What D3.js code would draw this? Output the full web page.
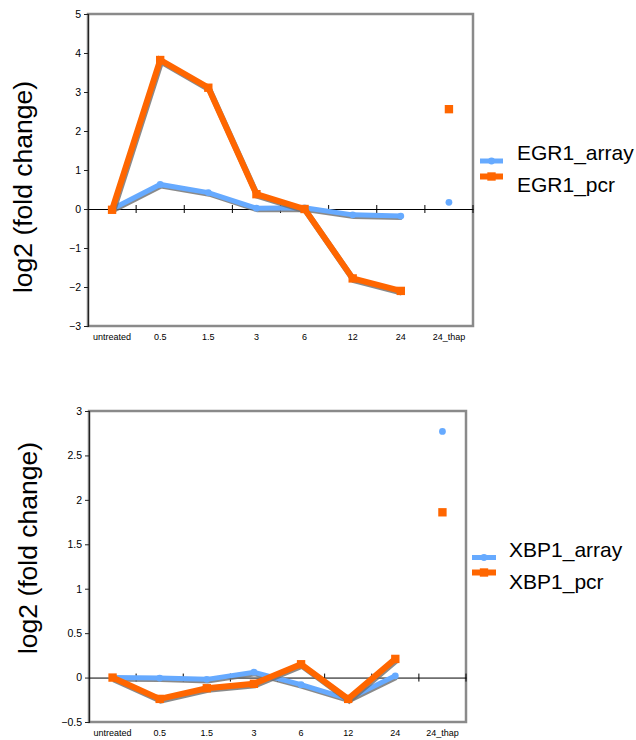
<!DOCTYPE html>
<html>
<head>
<meta charset="utf-8">
<script src="https://cdn.jsdelivr.net/npm/d3@7/dist/d3.min.js"></script>
<style>
  html, body { margin: 0; padding: 0; background: #fff; }
  svg { display: block; }
  text { font-family: "Liberation Sans", Arial, sans-serif; fill: #000; }
</style>
</head>
<body>
<svg id="chart" width="636" height="740"></svg>
<script>
// ---- data ----
const categories = ["untreated", "0.5", "1.5", "3", "6", "12", "24", "24_thap"];
const isolatedCategories = ["24_thap"];

const egr1Array = [0, 0.63, 0.42, 0.02, 0.03, -0.15, -0.18, 0.17];
const egr1Pcr   = [-0.02, 3.82, 3.11, 0.38, 0.0, -1.78, -2.1, 2.56];
const egr1Ticks = [-3, -2, -1, 0, 1, 2, 3, 4, 5];

const xbp1Array = [0, -0.005, -0.02, 0.06, -0.08, -0.24, 0.02, 2.77];
const xbp1Pcr   = [0, -0.24, -0.12, -0.07, 0.15, -0.24, 0.21, 1.86];
const xbp1Ticks = [-0.5, 0, 0.5, 1, 1.5, 2, 2.5, 3];

const yLabel = "log2 (fold change)";

const ORANGE = "#FF6600";
const BLUE = "#66AAFF";

const svg = d3.select("#chart");

function markerPath(kind) {
  return kind === "square" ? d3.symbol(d3.symbolSquare, 70)() : d3.symbol(d3.symbolCircle, 36)();
}

function drawChart(cfg) {
  const g = svg.append("g");
  const x = d3.scaleBand().domain(categories).range([cfg.left, cfg.right]);
  const y = d3.scaleLinear().domain(cfg.domain).range([cfg.bottom, cfg.top]);
  const cx = c => x(c) + x.bandwidth() / 2;

  // plot background and frame
  g.append("rect")
    .attr("x", cfg.left).attr("y", cfg.top)
    .attr("width", cfg.right - cfg.left).attr("height", cfg.bottom - cfg.top)
    .attr("fill", "#fff").attr("stroke", "#8a8a8a").attr("stroke-width", 2.5);

  // y axis
  const yAxis = d3.axisLeft(y).tickValues(cfg.ticks).tickSize(4).tickPadding(3)
    .tickFormat(d3.format("~g"));
  const ya = g.append("g").attr("transform", `translate(${cfg.left},0)`).call(yAxis);
  ya.select(".domain").attr("stroke", "#222").attr("stroke-width", 1.2);
  ya.selectAll(".tick line").attr("stroke", "#222");
  ya.selectAll(".tick text").attr("font-size", 10.5)
    .style("font-family", '"Liberation Sans", Arial, sans-serif').attr("fill", "#111");

  // x axis on zero line
  const xAxis = d3.axisBottom(x).tickSize(0).tickFormat("");
  const xa = g.append("g").attr("transform", `translate(0,${y(0)})`).call(xAxis);
  xa.select(".domain").attr("stroke", "#000").attr("stroke-width", 1);
  const bounds = categories.slice(1).map(c => x(c)).concat([cfg.right]);
  xa.selectAll("line.bt").data(bounds).join("line").attr("class", "bt")
    .attr("x1", d => d).attr("x2", d => d)
    .attr("y1", -4).attr("y2", 4).attr("stroke", "#000").attr("stroke-width", 1);

  // category labels at bottom
  g.selectAll("text.cat").data(categories).join("text").attr("class", "cat")
    .attr("x", d => cx(d)).attr("y", cfg.bottom + 14)
    .attr("text-anchor", "middle").attr("font-size", 9).text(d => d);

  // y label
  g.append("text")
    .attr("transform", `translate(${cfg.ylabX},${cfg.ylabY}) rotate(-90)`)
    .attr("text-anchor", "middle").attr("font-size", 26.5).text(yLabel);

  // series
  const line = d3.line().x(d => cx(d.c)).y(d => y(d.v));
  cfg.series.forEach(s => {
    const pts = categories.map((c, i) => ({ c, v: s.values[i] }));
    const linked = pts.filter(p => !isolatedCategories.includes(p.c));
    g.append("path").datum(linked).attr("d", line)
      .attr("transform", "translate(1,1.6)")
      .attr("fill", "none").attr("stroke", "#6d6d6d").attr("stroke-opacity", 0.8)
      .attr("stroke-width", s.width).attr("stroke-linejoin", "miter");
    g.append("path").datum(linked).attr("d", line)
      .attr("fill", "none").attr("stroke", s.color)
      .attr("stroke-width", s.width).attr("stroke-linejoin", "miter");
    g.selectAll(null).data(pts).join("path")
      .attr("transform", d => `translate(${cx(d.c)},${y(d.v)})`)
      .attr("fill", s.color)
      .attr("d", markerPath(s.marker));
  });

  // legend
  cfg.series.forEach((s, i) => {
    const ly = cfg.legend.lineY[i];
    g.append("line")
      .attr("x1", cfg.legend.x1).attr("x2", cfg.legend.x2)
      .attr("y1", ly).attr("y2", ly)
      .attr("stroke", s.color).attr("stroke-width", s.width);
    const mx = (cfg.legend.x1 + cfg.legend.x2) / 2;
    g.append("path").attr("transform", `translate(${mx},${ly})`)
      .attr("fill", s.color).attr("d", markerPath(s.marker));
    g.append("text").attr("x", cfg.legend.tx).attr("y", cfg.legend.textY[i])
      .attr("font-size", 21).text(s.name);
  });
}

drawChart({
  left: 88, right: 473, top: 14, bottom: 326,
  domain: [-3, 5], ticks: egr1Ticks,
  ylabX: 32, ylabY: 187,
  series: [
    { name: "EGR1_array", values: egr1Array, color: BLUE, width: 5, marker: "dot" },
    { name: "EGR1_pcr", values: egr1Pcr, color: ORANGE, width: 6, marker: "square" }
  ],
  legend: { x1: 480, x2: 503, tx: 517, lineY: [161, 176.5], textY: [160, 192] }
});

drawChart({
  left: 89, right: 466, top: 411, bottom: 722,
  domain: [-0.5, 3], ticks: xbp1Ticks,
  ylabX: 37, ylabY: 548,
  series: [
    { name: "XBP1_array", values: xbp1Array, color: BLUE, width: 5, marker: "dot" },
    { name: "XBP1_pcr", values: xbp1Pcr, color: ORANGE, width: 6, marker: "square" }
  ],
  legend: { x1: 472, x2: 496, tx: 509, lineY: [557.5, 572.5], textY: [557, 589] }
});
</script>
</body>
</html>
